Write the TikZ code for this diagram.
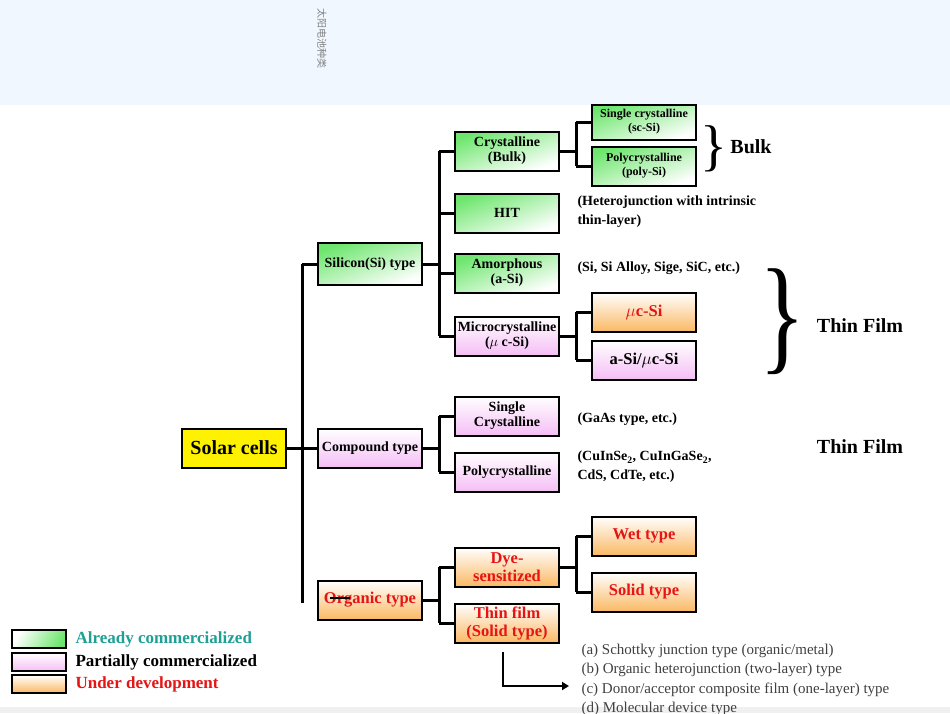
\documentclass[tikz,border=0pt]{standalone}
\usepackage{fontspec}
\setmainfont{Liberation Serif}
\newfontfamily\cjk{Noto Sans CJK SC}
\usetikzlibrary{arrows.meta}
\definecolor{gr}{RGB}{110,230,110}
\definecolor{pk}{RGB}{245,190,245}
\definecolor{og}{RGB}{250,185,100}
\definecolor{rd}{RGB}{230,20,20}
\definecolor{tl}{RGB}{30,160,150}
\definecolor{band}{RGB}{240,247,255}
\tikzset{
 bx/.style={draw=black,line width=2pt,minimum width=104pt,minimum height=39pt,inner sep=1pt,align=center,font=\bfseries\fontsize{14}{15}\selectfont},
 g/.style={bx,top color=gr,bottom color=white,shading angle=20},
 p/.style={bx,top color=white,bottom color=pk},
 o/.style={bx,top color=white,bottom color=og,text=rd,font=\bfseries\fontsize{16.5}{18}\selectfont},
 ln/.style={line width=3pt},
 ann/.style={anchor=west,align=left,font=\bfseries\fontsize{14}{19}\selectfont},
 big/.style={font=\bfseries\fontsize{20}{22}\selectfont}
}
\begin{document}
\begin{tikzpicture}[x=1pt,y=-1pt]
\useasboundingbox (0,0) rectangle (950,713);
\fill[white] (0,0) rectangle (950,713);
\fill[band] (0,0) rectangle (950,105);
\fill[gray!12] (0,707) rectangle (950,713);
\node[rotate=-90,text=gray,font=\cjk\fontsize{10}{10}\selectfont] (cj) at (322,38) {太阳电池种类};
% level 0,1
\node[bx,fill=yellow,font=\bfseries\fontsize{20}{22}\selectfont] (sc) at (234,448) {Solar cells};
\node[g,minimum height=42pt] (si) at (370,264) {Silicon(Si) type};
\node[p] (cp) at (370,448) {Compound type};
\node[o] (org) at (370,600) {Organic type};
% level 2
\node[g] (cr) at (507,151) {Crystalline\\(Bulk)};
\node[g] (hit) at (507,213) {HIT};
\node[g] (am) at (507,273) {Amorphous\\(a-Si)};
\node[p] (mc) at (507,336) {Microcrystalline\\($\mu$ c-Si)};
\node[p] (scr) at (507,416) {Single\\Crystalline};
\node[p] (pc) at (507,472) {Polycrystalline};
\node[o] (dye) at (507,567) {Dye-\\sensitized};
\node[o] (tf) at (507,623) {Thin film\\(Solid type)};
% level 3
\node[g,minimum height=35pt,font=\bfseries\fontsize{12}{14}\selectfont] (ssc) at (644,122) {Single crystalline\\(sc-Si)};
\node[g,font=\bfseries\fontsize{12}{14}\selectfont] (psi) at (644,166) {Polycrystalline\\(poly-Si)};
\node[o] (muc) at (644,312) {$\mu$c-Si};
\node[p,font=\bfseries\fontsize{16.5}{18}\selectfont] (asm) at (644,360) {a-Si/$\mu$c-Si};
\node[o] (wet) at (644,536) {Wet type};
\node[o] (sol) at (644,592) {Solid type};
% connectors
\coordinate (t0) at (302,448);
\draw[ln] (sc.east) -- (t0);
\draw[ln] (302,264) -- (302,603);
\draw[ln] (302,264) -- (si.west);
\draw[ln] (302,448) -- (cp.west);
\coordinate (t1) at (439,264);
\draw[ln] (si.east) -- (t1);
\draw[ln] (439,151) -- (439,336);
\foreach \n in {cr,hit,am,mc} \draw[ln] (439,0|-\n.west) -- (\n.west);
\draw[ln] (cp.east) -- (439,448);
\draw[ln] (439,416) -- (439,472);
\foreach \n in {scr,pc} \draw[ln] (439,0|-\n.west) -- (\n.west);
\draw[ln] (org.east) -- (439,600);
\draw[ln] (439,567) -- (439,623);
\foreach \n in {dye,tf} \draw[ln] (439,0|-\n.west) -- (\n.west);
\draw[ln] (cr.east) -- (576,151);
\draw[ln] (576,122) -- (576,166);
\foreach \n in {ssc,psi} \draw[ln] (576,0|-\n.west) -- (\n.west);
\draw[ln] (mc.east) -- (576,336);
\draw[ln] (576,312) -- (576,360);
\foreach \n in {muc,asm} \draw[ln] (576,0|-\n.west) -- (\n.west);
\draw[ln] (dye.east) -- (576,567);
\draw[ln] (576,536) -- (576,592);
\foreach \n in {wet,sol} \draw[ln] (576,0|-\n.west) -- (\n.west);
\draw[line width=2pt] (330,598) -- (350,598);
% annotations
\node[ann] (a1) at (574,212) {(Heterojunction with intrinsic\\thin-layer)};
\node[ann] (a2) at (574,268) {(Si, Si Alloy, Sige, SiC, etc.)};
\node[ann] (a3) at (574,419) {(GaAs type, etc.)};
\node[ann] (a4) at (574,467) {(CuInSe$_\mathbf{2}$, CuInGaSe$_\mathbf{2}$,\\CdS, CdTe, etc.)};
\node[ann,align=left,font=\fontsize{15}{19.5}\selectfont,text=black!75] (lst) at (578,680) {(a) Schottky junction type (organic/metal)\\(b) Organic heterojunction (two-layer) type\\(c) Donor/acceptor composite film (one-layer) type\\(d) Molecular device type};
\coordinate (ae) at (569,686);
\draw[line width=2.4pt,-{Triangle[length=7pt,width=8pt]}] (503,652) -- (503,686) -- (ae);
% braces
\node[font=\fontsize{56}{56}\selectfont] (b1) at (714,149) {\}};
\node[big] (bk) at (751,147) {Bulk};
\node[font=\fontsize{128}{128}\selectfont,xscale=0.75] (b2) at (783,322) {\}};
\node[big] (tf1) at (860,326) {Thin Film};
\node[big] (tf2) at (860,447) {Thin Film};
% legend
\node[bx,top color=white,bottom color=gr,shading angle=60,minimum width=54pt,minimum height=18pt] (l1) at (39,639) {};
\node[bx,top color=white,bottom color=pk,minimum width=54pt,minimum height=18pt] (l2) at (39,662) {};
\node[bx,top color=white,bottom color=og,minimum width=54pt,minimum height=18pt] (l3) at (39,684) {};
\node[anchor=west,font=\bfseries\fontsize{17}{17}\selectfont,text=tl] (t1l) at (72,639) {Already commercialized};
\node[anchor=west,font=\bfseries\fontsize{17}{17}\selectfont] (t2l) at (72,662) {Partially commercialized};
\node[anchor=west,font=\bfseries\fontsize{17}{17}\selectfont,text=rd] (t3l) at (72,684) {Under development};
\end{tikzpicture}
\end{document}
